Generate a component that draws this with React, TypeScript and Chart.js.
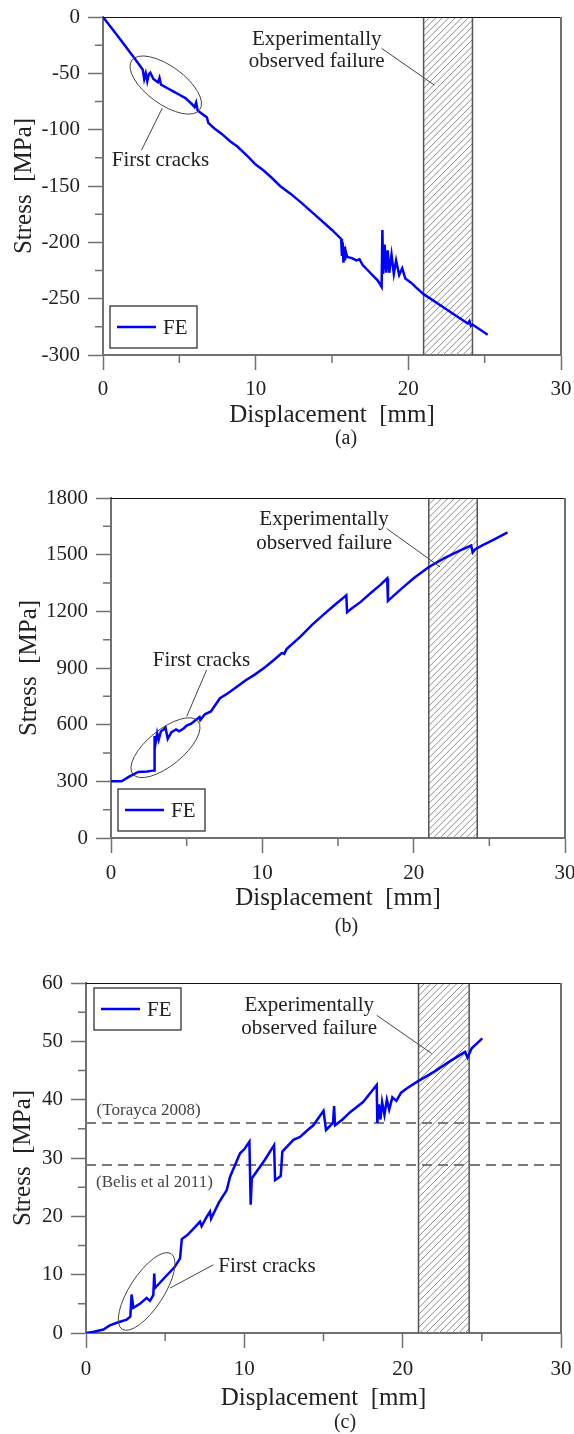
import React, { useEffect, useRef } from "react";
import { Chart, registerables } from "chart.js";

Chart.register(...registerables);

const FONT = "'Liberation Serif', 'Times New Roman', Times, serif";
const TEXT = "#222222";
const AXIS = "#707070";
const BLUE = "#0000ff";

// ---------- ticks ----------
const xTickValues = [0, 10, 20, 30];
const yTicksA = [-300, -250, -200, -150, -100, -50, 0];
const yTicksB = [0, 300, 600, 900, 1200, 1500, 1800];
const yTicksC = [0, 10, 20, 30, 40, 50, 60];

// ---------- experimentally observed failure band (mm) ----------
const failStart = 21.0;
const failEnd = 24.2;

// ---------- reference strengths (c) ----------
const refLabels = ["(Torayca 2008)", "(Belis et al 2011)"];
const refLevels = [36.0, 28.8];

// ---------- (a) ----------
const dispA = [0, 1.0, 2.0, 2.6, 2.7, 2.8, 2.9, 3.0, 3.1, 3.3, 3.6, 3.7, 3.8, 4.2, 4.6, 5.0, 5.4, 5.8, 6.0, 6.1, 6.2, 6.5, 6.8, 6.9, 7.3, 7.8, 8.3, 8.8, 9.5, 10.0, 10.5, 11.0, 11.6, 12.3, 13.0, 14.0, 15.0, 15.6, 15.65, 15.7, 15.75, 15.8, 15.85, 15.9, 16.0, 16.3, 16.6, 16.8, 17.0, 17.5, 18.0, 18.25, 18.3, 18.35, 18.45, 18.55, 18.65, 18.75, 18.9, 19.05, 19.2, 19.4, 19.6, 19.8, 20.2, 20.5, 21.0, 22.0, 23.0, 23.9, 24.0, 24.1, 24.2, 25.2];
const stressA = [0, -17.5, -35.5, -46.5, -55, -50, -57, -51, -49.5, -55, -58, -54, -60, -63, -66, -69, -72, -77, -80, -76, -83, -86, -89, -94, -99, -104, -110, -115, -124, -131, -136, -142, -150, -157, -165, -177, -189, -197, -212, -200, -218, -204, -216, -208, -213, -214, -216, -215, -220, -227, -234, -239.5, -189, -228, -202, -227, -207, -227, -211, -228, -216, -229, -223, -232, -236, -240, -246, -255, -264, -272, -270, -274, -273, -282];

// ---------- (b) ----------
const dispB = [0, 0.7, 1.2, 1.8, 2.4, 2.85, 2.88, 2.95, 3.05, 3.15, 3.3, 3.5, 3.6, 3.75, 3.85, 4.0, 4.3, 4.5, 4.8, 5.0, 5.3, 5.6, 5.85, 5.9, 6.2, 6.6, 7.2, 7.7, 8.3, 8.9, 9.5, 10.2, 10.8, 11.3, 11.45, 11.6, 12.5, 13.3, 14.0, 14.8, 15.55, 15.6, 15.9, 16.5, 17.2, 17.8, 18.25, 18.3, 18.5, 19.2, 20.0, 21.0, 22.0, 23.0, 23.8, 23.9, 24.05, 24.5, 25.3, 26.2];
const stressB = [300, 300, 325, 350, 352, 358, 540, 505, 555, 520, 565, 575, 585, 525, 540, 560, 575, 565, 580, 595, 605, 625, 640, 625, 655, 670, 740, 765, 800, 835, 865, 905, 945, 980, 975, 1000, 1065, 1130, 1180, 1235, 1285, 1195, 1215, 1250, 1300, 1340, 1375, 1255, 1270, 1320, 1375, 1435, 1480, 1520, 1548, 1512, 1528, 1548, 1580, 1618];

// ---------- (c) ----------
const dispC = [0, 0.5, 1.1, 1.5, 2.0, 2.57, 2.8, 2.88, 2.99, 3.4, 3.83, 4.04, 4.25, 4.31, 4.36, 5.0, 5.6, 5.94, 6.05, 6.4, 6.9, 7.2, 7.3, 7.6, 7.83, 7.9, 8.4, 8.89, 9.1, 9.73, 10.0, 10.32, 10.4, 10.47, 11.3, 11.88, 11.94, 12.3, 12.4, 13.1, 13.52, 14.0, 14.36, 15.0, 15.16, 15.6, 15.67, 15.73, 16.2, 16.7, 17.5, 18.36, 18.4, 18.5, 18.6, 18.7, 18.85, 19.0, 19.15, 19.35, 19.6, 19.9, 20.3, 20.9, 22.0, 23.0, 23.94, 24.1, 24.36, 25.03];
const stressC = [0, 0.2, 0.6, 1.3, 1.8, 2.3, 2.8, 6.6, 4.3, 5.0, 6.0, 5.5, 6.5, 10.2, 7.7, 9.6, 11.3, 12.8, 16.1, 16.8, 18.2, 19.1, 18.3, 19.8, 20.8, 19.6, 22.4, 24.5, 26.8, 30.8, 31.5, 32.8, 22.0, 26.5, 29.7, 32.2, 26.2, 26.9, 31.1, 33.1, 33.6, 34.8, 35.6, 38.1, 34.8, 36.0, 38.9, 35.6, 36.6, 37.9, 39.6, 42.5, 36.0, 39.2, 36.6, 39.6, 37.4, 40.0, 38.3, 40.4, 39.8, 41.2, 42.0, 43.05, 44.8, 46.6, 48.2, 47.2, 48.8, 50.5];

type Ann = {
  failText: { x: number; y1: number; y2: number };
  failLeader: [number, number, number, number];
  ellipse: { x: number; y: number; rx: number; ry: number; rot: number };
  crackLeader: [number, number, number, number];
  crackText: { x: number; y: number };
  legend: { dx: number; dy: number; anchor: "top" | "bottom" };
  refs?: { text: string; x: number; y: number }[];
  caption: string;
  captionX: number;
  captionY: number;
};

type Panel = {
  top: number;
  height: number;
  disp: number[];
  stress: number[];
  yTicks: number[];
  refLines: boolean;
  padTop: number;
  padRight: number;
  yWidth: number;
  xHeight: number;
  xTickPad: number;
  xTitlePad: number;
  yTitlePad: number;
  ann: Ann;
};

const panels: Panel[] = [
  {
    top: 0, height: 460, disp: dispA, stress: stressA, yTicks: yTicksA, refLines: false,
    padTop: 17, padRight: 13, yWidth: 103, xHeight: 105, xTickPad: 7, xTitlePad: 29.4, yTitlePad: 9.6,
    ann: {
      failText: { x: 14.0, y1: -25.0, y2: -44.2 },
      failLeader: [18.25, -27.8, 21.7, -60.4],
      ellipse: { x: 4.11, y: -60.4, rx: 42, ry: 19, rot: 36 },
      crackLeader: [3.88, -81.0, 2.53, -118.0],
      crackText: { x: 0.57, y: -132.0 },
      legend: { dx: 7, dy: 7, anchor: "bottom" },
      caption: "(a)", captionX: 346, captionY: 439,
    },
  },
  {
    top: 460, height: 490, disp: dispB, stress: stressB, yTicks: yTicksB, refLines: false,
    padTop: 38, padRight: 9, yWidth: 111, xHeight: 112, xTickPad: 8, xTitlePad: 36.7, yTitlePad: 14.6,
    ann: {
      failText: { x: 14.08, y1: 1655.7, y2: 1532.6 },
      failLeader: [18.22, 1638.3, 21.74, 1435.4],
      ellipse: { x: 3.6, y: 478, rx: 42, ry: 18, rot: -39 },
      crackLeader: [5.0, 642.6, 6.32, 889.5],
      crackText: { x: 2.76, y: 910.6 },
      legend: { dx: 7, dy: 7, anchor: "bottom" },
      caption: "(b)", captionX: 346.5, captionY: 467,
    },
  },
  {
    top: 950, height: 484, disp: dispC, stress: stressC, yTicks: yTicksC, refLines: true,
    padTop: 33, padRight: 13, yWidth: 86, xHeight: 101, xTickPad: 9, xTitlePad: 20.9, yTitlePad: 8.3,
    ann: {
      failText: { x: 14.1, y1: 55.16, y2: 51.34 },
      failLeader: [18.36, 54.47, 21.83, 47.92],
      ellipse: { x: 3.83, y: 7.12, rx: 45, ry: 17, rot: -57 },
      crackLeader: [5.31, 7.7, 8.04, 11.69],
      crackText: { x: 8.36, y: 10.54 },
      legend: { dx: 8, dy: 5, anchor: "top" },
      refs: [
        { text: refLabels[0], x: 0.67, y: 37.36 },
        { text: refLabels[1], x: 0.63, y: 25.09 },
      ],
      caption: "(c)", captionX: 345, captionY: 473,
    },
  },
];

function makeAnnot(panel: Panel) {
  return {
    id: "annot",
    beforeDatasetsDraw(chart: any) {
      const { ctx, chartArea: ca, scales } = chart;
      const xs = scales.x;
      const x1 = xs.getPixelForValue(failStart);
      const x2 = xs.getPixelForValue(failEnd);
      const h = ca.bottom - ca.top;
      ctx.save();
      ctx.beginPath();
      ctx.rect(x1, ca.top, x2 - x1, h);
      ctx.clip();
      ctx.strokeStyle = "#8c8c8c";
      ctx.lineWidth = 1;
      ctx.beginPath();
      for (let s = x1 - h; s < x2 + 10; s += 6.5) {
        ctx.moveTo(s, ca.bottom);
        ctx.lineTo(s + h, ca.top);
      }
      ctx.stroke();
      ctx.restore();
      ctx.save();
      ctx.strokeStyle = "#555";
      ctx.lineWidth = 1.5;
      ctx.beginPath();
      ctx.moveTo(x1, ca.top);
      ctx.lineTo(x1, ca.bottom);
      ctx.moveTo(x2, ca.top);
      ctx.lineTo(x2, ca.bottom);
      ctx.stroke();
      ctx.restore();
    },
    afterDraw(chart: any) {
      const { ctx, chartArea: ca, scales } = chart;
      const xs = scales.x;
      const ys = scales.y;
      const px = (v: number) => xs.getPixelForValue(v);
      const py = (v: number) => ys.getPixelForValue(v);
      const a = panel.ann;
      ctx.save();
      // frame
      ctx.strokeStyle = "#111";
      ctx.lineWidth = 1;
      ctx.beginPath();
      ctx.moveTo(ca.left, ca.top + 0.5);
      ctx.lineTo(ca.right, ca.top + 0.5);
      ctx.stroke();
      ctx.strokeStyle = AXIS;
      ctx.lineWidth = 2;
      ctx.beginPath();
      ctx.moveTo(ca.right, ca.top);
      ctx.lineTo(ca.right, ca.bottom);
      ctx.stroke();
      // minor ticks
      ctx.lineWidth = 1.5;
      ctx.beginPath();
      for (let i = 0; i < xTickValues.length - 1; i++) {
        const m = px((xTickValues[i] + xTickValues[i + 1]) / 2);
        ctx.moveTo(m, ca.bottom);
        ctx.lineTo(m, ca.bottom + 8);
      }
      for (let i = 0; i < panel.yTicks.length - 1; i++) {
        const m = py((panel.yTicks[i] + panel.yTicks[i + 1]) / 2);
        ctx.moveTo(ca.left - 8, m);
        ctx.lineTo(ca.left, m);
      }
      ctx.stroke();

      // ellipse and leaders
      ctx.strokeStyle = "#444";
      ctx.lineWidth = 1;
      ctx.beginPath();
      ctx.ellipse(px(a.ellipse.x), py(a.ellipse.y), a.ellipse.rx, a.ellipse.ry, (a.ellipse.rot * Math.PI) / 180, 0, Math.PI * 2);
      ctx.stroke();
      ctx.beginPath();
      ctx.moveTo(px(a.crackLeader[0]), py(a.crackLeader[1]));
      ctx.lineTo(px(a.crackLeader[2]), py(a.crackLeader[3]));
      ctx.moveTo(px(a.failLeader[0]), py(a.failLeader[1]));
      ctx.lineTo(px(a.failLeader[2]), py(a.failLeader[3]));
      ctx.stroke();

      // texts
      ctx.fillStyle = TEXT;
      ctx.font = `21px ${FONT}`;
      ctx.textBaseline = "alphabetic";
      ctx.textAlign = "center";
      ctx.fillText("Experimentally", px(a.failText.x), py(a.failText.y1));
      ctx.fillText("observed failure", px(a.failText.x), py(a.failText.y2));
      ctx.textAlign = "left";
      ctx.fillText("First cracks", px(a.crackText.x), py(a.crackText.y));

      if (a.refs) {
        ctx.fillStyle = "#444";
        ctx.font = `17px ${FONT}`;
        for (const r of a.refs) ctx.fillText(r.text, px(r.x), py(r.y));
      }

      // legend
      const ds = chart.data.datasets[0];
      const bw = 87;
      const bh = 42;
      const bx = ca.left + a.legend.dx;
      const by = a.legend.anchor === "top" ? ca.top + a.legend.dy : ca.bottom - a.legend.dy - bh;
      ctx.fillStyle = "#fff";
      ctx.fillRect(bx, by, bw, bh);
      ctx.strokeStyle = "#333";
      ctx.lineWidth = 1.3;
      ctx.strokeRect(bx, by, bw, bh);
      ctx.strokeStyle = ds.borderColor;
      ctx.lineWidth = 2.5;
      ctx.beginPath();
      ctx.moveTo(bx + 7, by + bh / 2);
      ctx.lineTo(bx + 46, by + bh / 2);
      ctx.stroke();
      ctx.fillStyle = TEXT;
      ctx.font = `21px ${FONT}`;
      ctx.textBaseline = "middle";
      ctx.textAlign = "left";
      ctx.fillText(ds.label, bx + 53, by + bh / 2 + 1.5);

      // caption
      ctx.textAlign = "center";
      ctx.font = `20px ${FONT}`;
      ctx.fillText(a.caption, a.captionX, a.captionY);
      ctx.restore();
    },
  };
}

function buildConfig(panel: Panel): any {
  const datasets: any[] = [
    {
      label: "FE",
      data: panel.disp.map((x, i) => ({ x, y: panel.stress[i] })),
      borderColor: BLUE,
      borderWidth: 2.5,
      pointRadius: 0,
      fill: false,
      tension: 0,
    },
  ];
  if (panel.refLines) {
    refLevels.forEach((lv, i) => {
      datasets.push({
        label: refLabels[i],
        data: [{ x: xTickValues[0], y: lv }, { x: xTickValues[xTickValues.length - 1], y: lv }],
        borderColor: "#7a7a7a",
        borderWidth: 2,
        borderDash: [10, 6],
        pointRadius: 0,
        fill: false,
      });
    });
  }
  const tickFont = { family: FONT, size: 21 };
  const titleFont = { family: FONT, size: 25 };
  return {
    type: "line",
    data: { datasets },
    options: {
      responsive: false,
      animation: false,
      devicePixelRatio: 1,
      layout: { padding: { top: panel.padTop, right: panel.padRight, left: 0, bottom: 0 } },
      plugins: { legend: { display: false }, tooltip: { enabled: false }, title: { display: false } },
      scales: {
        x: {
          type: "linear",
          min: xTickValues[0],
          max: xTickValues[xTickValues.length - 1],
          afterBuildTicks: (s: any) => {
            s.ticks = xTickValues.map((v) => ({ value: v }));
          },
          afterFit: (s: any) => {
            s.height = panel.xHeight;
            s.paddingLeft = 0;
            s.paddingRight = 0;
          },
          ticks: { color: TEXT, font: tickFont, padding: panel.xTickPad, autoSkip: false, maxRotation: 0, callback: (v: any) => String(v) },
          grid: { display: true, drawOnChartArea: false, drawTicks: true, tickLength: 15, tickColor: AXIS, tickWidth: 1.5 },
          border: { display: true, color: AXIS, width: 2 },
          title: { display: true, text: "Displacement  [mm]", color: TEXT, font: titleFont, padding: { top: 0, bottom: panel.xTitlePad } },
        },
        y: {
          type: "linear",
          min: panel.yTicks[0],
          max: panel.yTicks[panel.yTicks.length - 1],
          afterBuildTicks: (s: any) => {
            s.ticks = panel.yTicks.map((v) => ({ value: v }));
          },
          afterFit: (s: any) => {
            s.width = panel.yWidth;
            s.paddingTop = 0;
            s.paddingBottom = 0;
          },
          ticks: { color: TEXT, font: tickFont, padding: 8, autoSkip: false, callback: (v: any) => String(v) },
          grid: { display: true, drawOnChartArea: false, drawTicks: true, tickLength: 15, tickColor: AXIS, tickWidth: 1.5 },
          border: { display: true, color: AXIS, width: 2 },
          title: { display: true, text: "Stress  [MPa]", color: TEXT, font: titleFont, padding: { top: panel.yTitlePad, bottom: 0 } },
        },
      },
    },
    plugins: [makeAnnot(panel)],
  };
}

function PanelChart({ panel }: { panel: Panel }) {
  const ref = useRef<HTMLCanvasElement>(null);
  useEffect(() => {
    if (!ref.current) return;
    const chart = new Chart(ref.current, buildConfig(panel));
    return () => chart.destroy();
  }, [panel]);
  return (
    <canvas
      ref={ref}
      width={574}
      height={panel.height}
      style={{ position: "absolute", left: 0, top: panel.top, width: 574, height: panel.height, display: "block" }}
    />
  );
}

export default function App() {
  return (
    <div style={{ position: "absolute", left: 0, top: 0, width: 574, height: 1434, background: "#fff", overflow: "hidden" }}>
      {panels.map((p, i) => (
        <PanelChart key={i} panel={p} />
      ))}
    </div>
  );
}
